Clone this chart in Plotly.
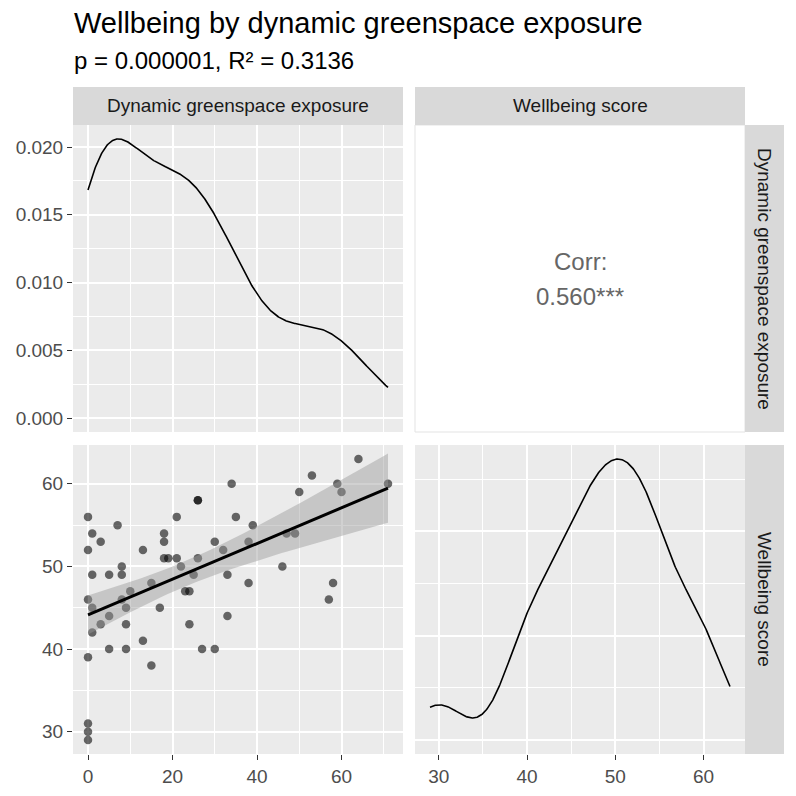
import numpy as np
import plotly.graph_objects as go

# ---------------- data ----------------
greenspace = [0, 0, 1, 3, 7, 1, 5, 8, 8, 0,
              1, 3, 1, 5, 8, 9, 10, 9, 5, 9,
              0, 0, 0, 0, 13, 15, 13, 15, 17, 18,
              18, 18, 19, 21, 21, 22, 23, 24, 24, 26,
              26, 26, 25, 27, 30, 30, 32, 33, 33, 34,
              35, 38, 39, 38, 46, 47, 49, 50, 53, 58,
              57, 59, 60, 64, 71]
wellbeing = [56, 52, 54, 53, 55, 49, 49, 50, 49, 46,
             45, 43, 42, 44, 46, 45, 47, 43, 40, 40,
             39, 31, 30, 29, 52, 48, 41, 38, 45, 54,
             53, 51, 51, 56, 51, 50, 47, 47, 43, 58,
             58, 51, 49, 40, 53, 40, 52, 49, 44, 60,
             56, 53, 55, 48, 50, 54, 54, 59, 61, 48,
             46, 60, 59, 63, 60]
var_labels = ["Dynamic greenspace exposure", "Wellbeing score"]
title_text = "Wellbeing by dynamic greenspace exposure"
subtitle_text = "p = 0.000001, R\u00b2 = 0.3136"
corr_text = ["Corr:", "0.560***"]
x_ticks = [0, 20, 40, 60]
y_ticks = [30, 40, 50, 60]
dens_ticks = [0.0, 0.005, 0.010, 0.015, 0.020]

x = np.array(greenspace, float)
y = np.array(wellbeing, float)


def bw_nrd0(v):
    sd = np.std(v, ddof=1)
    iqr = np.subtract(*np.percentile(v, [75, 25]))
    lo = min(sd, iqr / 1.34) if iqr > 0 else sd
    return 0.9 * lo * len(v) ** (-0.2)


def kde(v, n=512):
    bw = bw_nrd0(v)
    g = np.linspace(v.min(), v.max(), n)
    d = np.exp(-0.5 * ((g[:, None] - v[None, :]) / bw) ** 2).sum(1)
    d /= (len(v) * bw * np.sqrt(2 * np.pi))
    return g, d


gx, dx = kde(x)
gy, dy = kde(y)

# linear fit + 95% CI
n = len(x)
b1, b0 = np.polyfit(x, y, 1)
xs = np.linspace(x.min(), x.max(), 80)
fit = b0 + b1 * xs
res = y - (b0 + b1 * x)
s = np.sqrt((res ** 2).sum() / (n - 2))
sxx = ((x - x.mean()) ** 2).sum()
se = s * np.sqrt(1 / n + (xs - x.mean()) ** 2 / sxx)
tq = 1.998
lo, hi = fit - tq * se, fit + tq * se

# ---------------- layout geometry (px) ----------------
W = H = 796
c1 = (73, 403)
c2 = (415, 745)
rs = (745, 784)
st = (87, 125)
r1 = (125, 432)
r2 = (445, 754)


def px(a):
    return a / W


def py(a):
    return 1 - a / H


FONT = "Liberation Sans, Arial, sans-serif"
BG = "#EBEBEB"
TICKF = dict(family=FONT, size=19, color="#4D4D4D")

fig = go.Figure()

# top-left density
fig.add_trace(go.Scatter(x=gx, y=dx, mode="lines", line=dict(color="black", width=1.6),
                         xaxis="x", yaxis="y", hoverinfo="skip", showlegend=False))
# scatter points
fig.add_trace(go.Scatter(x=x, y=y, mode="markers",
                         marker=dict(color="rgba(0,0,0,0.58)", size=8.5, line=dict(width=0)),
                         xaxis="x2", yaxis="y2", showlegend=False))
# CI band
fig.add_trace(go.Scatter(x=np.concatenate([xs, xs[::-1]]), y=np.concatenate([hi, lo[::-1]]),
                         fill="toself", fillcolor="rgba(153,153,153,0.45)", line=dict(width=0),
                         mode="lines", xaxis="x2", yaxis="y2", hoverinfo="skip", showlegend=False))
# fit line
fig.add_trace(go.Scatter(x=xs, y=fit, mode="lines", line=dict(color="black", width=3),
                         xaxis="x2", yaxis="y2", showlegend=False))
# bottom-right density
fig.add_trace(go.Scatter(x=gy, y=dy, mode="lines", line=dict(color="black", width=1.6),
                         xaxis="x3", yaxis="y3", hoverinfo="skip", showlegend=False))

xr = [x.min() - 0.05 * (x.max() - x.min()), x.max() + 0.05 * (x.max() - x.min())]
yr = [y.min() - 0.05 * (y.max() - y.min()), y.max() + 0.05 * (y.max() - y.min())]
d1r = [-0.05 * dx.max(), 1.05 * dx.max()]
d2r = [-0.05 * dy.max(), 1.05 * dy.max()]

grid = dict(showgrid=True, gridcolor="white", gridwidth=2, zeroline=False, showline=False)


def minor(dt):
    return dict(showgrid=True, gridcolor="white", gridwidth=1, dtick=dt, ticks="")


axis_tick = dict(ticks="outside", ticklen=5, tickwidth=1, tickcolor="#333333", tickfont=TICKF)

fig.update_layout(
    width=W, height=H, margin=dict(l=0, r=0, t=0, b=0),
    paper_bgcolor="white", plot_bgcolor="white", showlegend=False,
    font=dict(family=FONT),
    xaxis=dict(domain=[px(c1[0]), px(c1[1])], range=xr, anchor="y", tickvals=x_ticks,
               showticklabels=False, ticks="", minor=minor(10), tick0=0, **grid),
    yaxis=dict(domain=[py(r1[1]), py(r1[0])], range=d1r, anchor="x", tickvals=dens_ticks,
               tickformat=".3f", minor=minor(0.0025), **axis_tick, **grid),
    xaxis2=dict(domain=[px(c1[0]), px(c1[1])], range=xr, anchor="y2", tickvals=x_ticks,
                minor=minor(10), **axis_tick, **grid),
    yaxis2=dict(domain=[py(r2[1]), py(r2[0])], range=yr, anchor="x2", tickvals=y_ticks,
                minor=minor(5), **axis_tick, **grid),
    xaxis3=dict(domain=[px(c2[0]), px(c2[1])], range=yr, anchor="y3", tickvals=y_ticks,
                minor=minor(5), **axis_tick, **grid),
    yaxis3=dict(domain=[py(r2[1]), py(r2[0])], range=d2r, anchor="x3", dtick=0.02, tick0=0,
                showticklabels=False, ticks="", minor=minor(0.01), **grid),
)

shapes = []
# panel backgrounds
for (xa, ya) in [(c1, r1), (c1, r2), (c2, r2)]:
    shapes.append(dict(type="rect", xref="paper", yref="paper", layer="below",
                       x0=px(xa[0]), x1=px(xa[1]), y0=py(ya[1]), y1=py(ya[0]),
                       fillcolor=BG, line=dict(width=0)))
# corr panel (white with light border)
shapes.append(dict(type="rect", xref="paper", yref="paper", layer="below",
                   x0=px(c2[0]), x1=px(c2[1]), y0=py(r1[1]), y1=py(r1[0]),
                   fillcolor="white", line=dict(color="#E3E3E3", width=1)))
# strips
for xa in (c1, c2):
    shapes.append(dict(type="rect", xref="paper", yref="paper",
                       x0=px(xa[0]), x1=px(xa[1]), y0=py(st[1]), y1=py(st[0]),
                       fillcolor="#D9D9D9", line=dict(width=0)))
for ya in (r1, r2):
    shapes.append(dict(type="rect", xref="paper", yref="paper",
                       x0=px(rs[0]), x1=px(rs[1]), y0=py(ya[1]), y1=py(ya[0]),
                       fillcolor="#D9D9D9", line=dict(width=0)))
fig.update_layout(shapes=shapes)

ann = []
STRIPF = dict(family=FONT, size=19, color="#1A1A1A")
for lab, xa in zip(var_labels, (c1, c2)):
    ann.append(dict(text=lab, xref="paper", yref="paper", x=px((xa[0] + xa[1]) / 2),
                    y=py((st[0] + st[1]) / 2), showarrow=False, font=STRIPF,
                    xanchor="center", yanchor="middle"))
for lab, ya in zip(var_labels, (r1, r2)):
    ann.append(dict(text=lab, xref="paper", yref="paper", x=px((rs[0] + rs[1]) / 2),
                    y=py((ya[0] + ya[1]) / 2), showarrow=False, font=STRIPF, textangle=90,
                    xanchor="center", yanchor="middle"))
CORRF = dict(family=FONT, size=24, color="#666666")
ann.append(dict(text=corr_text[0], xref="paper", yref="paper", x=px(580), y=py(262),
                showarrow=False, font=CORRF, xanchor="center", yanchor="middle"))
ann.append(dict(text=corr_text[1], xref="paper", yref="paper", x=px(580), y=py(296),
                showarrow=False, font=CORRF, xanchor="center", yanchor="middle"))
ann.append(dict(text=title_text, xref="paper", yref="paper", x=px(72), y=py(23),
                showarrow=False, font=dict(family=FONT, size=29, color="black"),
                xanchor="left", yanchor="middle"))
ann.append(dict(text=subtitle_text, xref="paper", yref="paper", x=px(72), y=py(61),
                showarrow=False, font=dict(family=FONT, size=24, color="black"),
                xanchor="left", yanchor="middle"))
fig.update_layout(annotations=ann)

fig.write_html("out.html", config={"displayModeBar": False},
               post_script="document.body.style.margin='0';document.body.style.overflow='hidden';")
